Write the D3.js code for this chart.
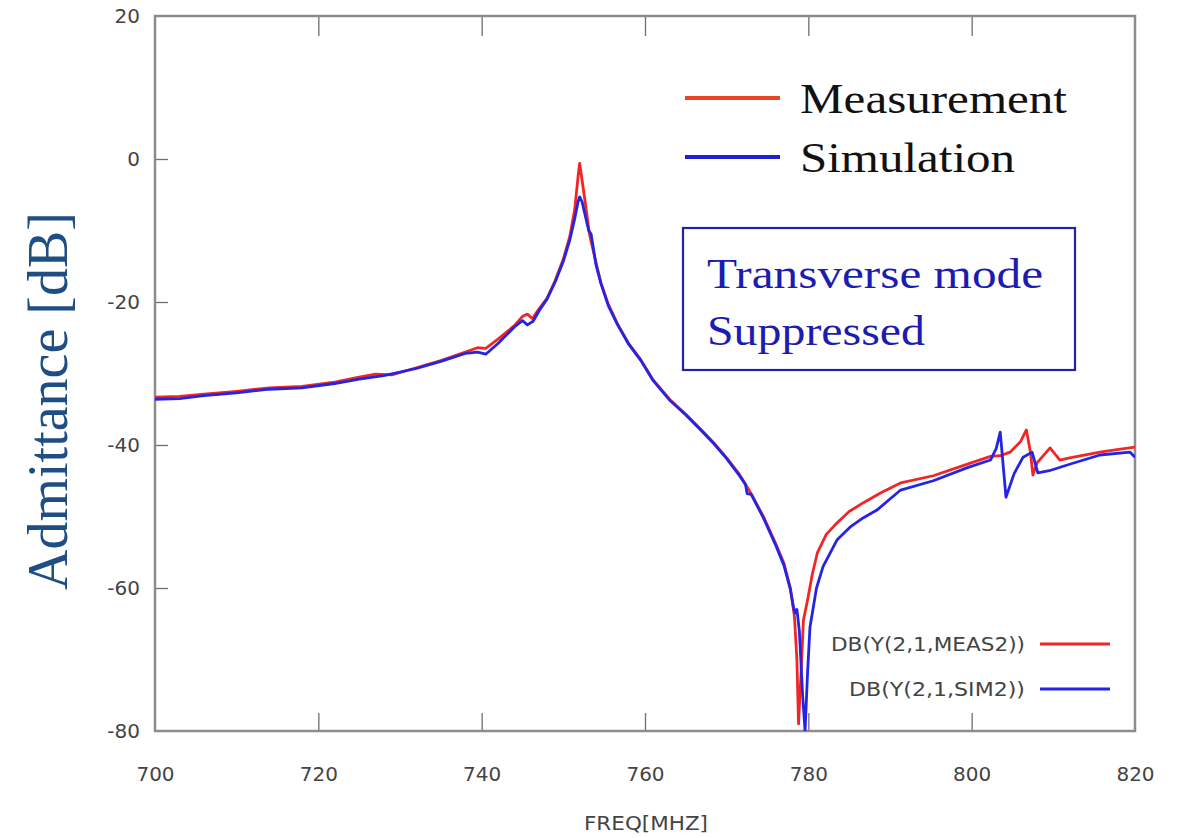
<!DOCTYPE html>
<html><head><meta charset="utf-8">
<script src="https://cdn.jsdelivr.net/npm/d3@7"></script>
<style>html,body{margin:0;padding:0;background:#fff;}svg{display:block;}</style>
</head><body>
<script>
// ---- data ----
const xTicks = [700, 720, 740, 760, 780, 800, 820];
const yTicks = [20, 0, -20, -40, -60, -80];

const measFreq = [700,703,706,710,714,718,722,725,727,729,732,735,738,739.5,740.5,742,744,745,745.6,746.2,747,748,749,750,750.8,751.4,751.8,752.0,752.3,752.7,753.2,754,754.6,755.5,756.6,758,759.5,761,763,765,767,768.5,770,771.5,773,774.5,776,777,777.8,778.3,778.6,778.8,779.1,779.4,779.9,780.5,781.1,782.2,783.5,785,786.7,789,791.3,795.3,799.4,802.3,803.5,804.7,806,806.7,807.2,807.5,808,809.6,810.8,812,815.7,818,820];
const measDb = [-33.3,-33.2,-32.9,-32.5,-32.0,-31.8,-31.2,-30.5,-30.1,-30.2,-29.2,-28.2,-27.0,-26.4,-26.5,-25.2,-23.3,-22.0,-21.7,-22.3,-21.0,-19.5,-17.0,-14.0,-10.8,-7.0,-2.5,-0.6,-3.0,-6.2,-10.5,-14.5,-17.3,-20.3,-23.0,-25.8,-28.1,-30.9,-33.6,-35.7,-38.0,-39.8,-41.8,-44.0,-46.8,-50.0,-53.8,-56.5,-60.0,-64.0,-70,-79,-72,-64.5,-61.7,-58,-55.1,-52.5,-50.9,-49.3,-48.1,-46.6,-45.3,-44.3,-42.7,-41.6,-41.5,-41.0,-39.5,-37.9,-41,-44.2,-42.5,-40.4,-42.1,-41.8,-41.0,-40.6,-40.3];

const simFreq = [700,703,706,710,714,718,722,725,728,732,735,738,739.5,740.5,742,744,745,745.6,746.3,747,748,749,750,750.8,751.4,751.8,752.0,752.3,752.7,753.1,753.4,754,754.6,755.5,756.6,758,759.5,761,763,765,767,768.5,770,771.5,772.3,772.5,773,774.5,776,777,777.8,778.2,778.4,778.6,778.9,779.3,779.6,779.9,780.2,781,781.8,783.5,785.1,786.7,788.4,791.3,795.3,799.4,802.3,803.0,803.5,804.2,805.2,806.3,807.4,808.1,809.5,811.7,815.7,819.4,820];
const simDb = [-33.6,-33.5,-33.1,-32.7,-32.2,-32.0,-31.4,-30.8,-30.3,-29.3,-28.3,-27.2,-27.0,-27.3,-25.8,-23.5,-22.6,-23.2,-22.7,-21.3,-19.6,-17.2,-14.3,-11.3,-8.3,-6.0,-5.3,-6.0,-8.0,-10.0,-10.5,-14.8,-17.4,-20.5,-23.1,-25.9,-28.2,-31.0,-33.7,-35.8,-38.1,-39.9,-41.9,-44.2,-45.5,-46.8,-46.9,-50.2,-54.0,-56.8,-60.2,-62.8,-63.5,-63.0,-66,-75,-80,-72,-65.5,-60,-57,-53.3,-51.5,-50.2,-49.1,-46.3,-45.0,-43.2,-42.1,-40.5,-38.2,-47.3,-44,-41.7,-41.0,-43.9,-43.6,-42.8,-41.4,-41.0,-41.7];

const seriesNames = ["Measurement", "Simulation"];
const plotNames = ["DB(Y(2,1,MEAS2))", "DB(Y(2,1,SIM2))"];
const noteLines = ["Transverse mode", "Suppressed"];

// ---- layout ----
const W = 1188, H = 838;
const L = 155, R = 1135, T = 16, B = 731;
const svg = d3.select("body").append("svg").attr("width", W).attr("height", H);

const x = d3.scaleLinear().domain([700, 820]).range([L, R]);
const y = d3.scaleLinear().domain([-80, 20]).range([B, T]);

svg.append("defs").append("clipPath").attr("id", "clip")
  .append("rect").attr("x", L).attr("y", T).attr("width", R - L).attr("height", B - T);

const gray = "#8c8c8c";
const tickFont = "'DejaVu Sans', Verdana, sans-serif";
const fmt = d => String(d);

// bottom axis with inside ticks
const xAxisB = svg.append("g").attr("transform", `translate(0,${B})`)
  .call(d3.axisBottom(x).tickValues(xTicks).tickFormat(fmt).tickSizeInner(-18).tickSizeOuter(0).tickPadding(36));
xAxisB.select(".domain").remove();
xAxisB.selectAll(".tick line").attr("stroke", "#6e6e6e").attr("stroke-width", 1.3);
xAxisB.selectAll(".tick text").attr("font-family", tickFont).attr("font-size", 20).attr("fill", "#444");
xAxisB.selectAll(".tick").filter(d => d === 700 || d === 820).select("line").remove();

// top ticks
const xAxisT = svg.append("g").attr("transform", `translate(0,${T})`)
  .call(d3.axisTop(x).tickValues(xTicks.slice(1, -1)).tickSizeInner(-20).tickSizeOuter(0).tickFormat(""));
xAxisT.select(".domain").remove();
xAxisT.selectAll(".tick line").attr("stroke", "#6e6e6e").attr("stroke-width", 1.3);

// left axis
const yAxis = svg.append("g").attr("transform", `translate(${L},0)`)
  .call(d3.axisLeft(y).tickValues(yTicks).tickFormat(fmt).tickSizeInner(-13).tickSizeOuter(0).tickPadding(15));
yAxis.select(".domain").remove();
yAxis.selectAll(".tick line").attr("stroke", "#6e6e6e").attr("stroke-width", 1.3);
yAxis.selectAll(".tick text").attr("font-family", tickFont).attr("font-size", 20).attr("fill", "#444");
yAxis.selectAll(".tick").filter(d => d === 20 || d === -80).select("line").remove();

// frame
svg.append("rect").attr("x", L).attr("y", T).attr("width", R - L).attr("height", B - T)
  .attr("fill", "none").attr("stroke", gray).attr("stroke-width", 2.5);

// curves
const line = d3.line().x(d => x(d[0])).y(d => y(d[1]));
const meas = measFreq.map((f, i) => [f, measDb[i]]);
const sim = simFreq.map((f, i) => [f, simDb[i]]);
const curves = svg.append("g").attr("clip-path", "url(#clip)");
curves.append("path").datum(meas).attr("d", line).attr("fill", "none")
  .attr("stroke", "#f02626").attr("stroke-width", 2.8).attr("stroke-linejoin", "round");
curves.append("path").datum(sim).attr("d", line).attr("fill", "none")
  .attr("stroke", "#2424e6").attr("stroke-width", 2.8).attr("stroke-linejoin", "round");

// axis titles
svg.append("text").attr("x", 646).attr("y", 830).attr("text-anchor", "middle")
  .attr("font-family", tickFont).attr("font-size", 20).attr("fill", "#444")
  .attr("textLength", 124).attr("lengthAdjust", "spacingAndGlyphs").text("FREQ[MHZ]");
svg.append("text").attr("transform", "translate(67,401) rotate(-90)").attr("text-anchor", "middle")
  .attr("font-family", "'Liberation Serif', 'Times New Roman', serif").attr("font-size", 56)
  .attr("fill", "#1f4e85").text("Admittance [dB]");

// top legend
const legColors = ["#e8461e", "#1f1fd2"];
const legLen = [267, 215];
seriesNames.forEach((n, i) => {
  const yy = 98 + i * 59;
  svg.append("line").attr("x1", 685).attr("x2", 780).attr("y1", yy).attr("y2", yy)
    .attr("stroke", legColors[i]).attr("stroke-width", 4);
  svg.append("text").attr("x", 800).attr("y", yy + 15)
    .attr("font-family", "'Liberation Serif', 'Times New Roman', serif").attr("font-size", 42)
    .attr("fill", "#111").attr("textLength", legLen[i]).attr("lengthAdjust", "spacingAndGlyphs").text(n);
});

// note box
svg.append("rect").attr("x", 683).attr("y", 228).attr("width", 392).attr("height", 142)
  .attr("fill", "none").attr("stroke", "#2222a8").attr("stroke-width", 2.2);
const noteLen = [336, 218];
noteLines.forEach((n, i) => {
  svg.append("text").attr("x", 707).attr("y", 288 + i * 57)
    .attr("font-family", "'Liberation Serif', 'Times New Roman', serif").attr("font-size", 42)
    .attr("fill", "#1c1cb0").attr("textLength", noteLen[i]).attr("lengthAdjust", "spacingAndGlyphs").text(n);
});

// bottom-right legend
const plotColors = ["#f02626", "#2424e6"];
const plotLen = [194, 176];
plotNames.forEach((n, i) => {
  const yy = 644 + i * 45;
  svg.append("line").attr("x1", 1040).attr("x2", 1110).attr("y1", yy).attr("y2", yy)
    .attr("stroke", plotColors[i]).attr("stroke-width", 3);
  svg.append("text").attr("x", 1025).attr("y", yy + 7).attr("text-anchor", "end")
    .attr("font-family", tickFont).attr("font-size", 19).attr("fill", "#444")
    .attr("textLength", plotLen[i]).attr("lengthAdjust", "spacingAndGlyphs").text(n);
});
</script>
</body></html>
